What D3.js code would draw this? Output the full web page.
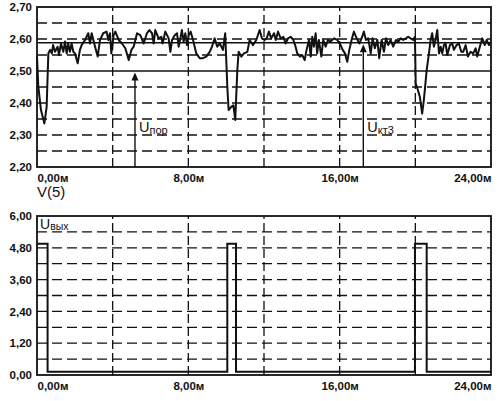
<!DOCTYPE html>
<html><head><meta charset="utf-8">
<script src="https://cdn.jsdelivr.net/npm/d3@7"></script>
<style>
html,body{margin:0;padding:0;background:#fff;}
svg{display:block;font-family:"Liberation Sans",Arial,sans-serif;}
</style></head><body>
<svg id="chart" width="500" height="401"></svg>
<script>
// ---- data ----
const xTicks = [0, 8, 16, 24];                 // ms
const xGrid = [4, 8, 12, 16, 20];
const topYTicks = [2.2, 2.3, 2.4, 2.5, 2.6, 2.7];
const topYGrid = [2.25, 2.30, 2.35, 2.40, 2.45, 2.55, 2.60, 2.65];
const botYTicks = [0, 1.2, 2.4, 3.6, 4.8, 6.0];
const botYGrid = [0.6, 1.2, 1.8, 2.4, 3.0, 3.6, 4.2, 4.8, 5.4];
const uporLevel = 2.50;
const ukt3Level = 2.588;
const uporTime = 5.18;
const ukt3Time = 17.25;

const v5Time = [0,0.07,0.21,0.39,0.51,0.60,0.69,0.78,0.85,0.95,1.09,1.16,1.27,1.39,1.48,1.57,1.65,1.74,1.83,1.92,2.01,2.15,2.27,2.36,2.54,2.71,2.80,2.89,3.07,3.21,3.33,3.50,3.68,3.77,3.86,3.93,4.05,
4.14,4.32,4.49,4.67,4.85,4.99,5.11,5.29,5.46,5.64,5.81,5.94,6.08,6.17,6.25,6.43,6.57,6.64,6.78,6.96,7.05,7.14,7.28,7.40,7.49,7.58,7.66,7.75,7.84,7.93,8.02,
8.12,8.25,8.42,8.60,8.77,8.95,9.13,9.25,9.39,9.53,9.66,9.83,9.95,10.06,10.13,10.27,10.38,10.48,10.59,10.66,10.80,10.94,11.12,11.24,11.42,11.59,11.77,11.89,12.03,
12.14,12.26,12.38,12.53,12.62,12.74,12.88,13.02,13.14,13.27,13.41,13.55,13.67,13.76,13.90,14.02,14.15,14.25,14.38,14.47,14.55,14.64,14.73,14.81,14.90,15.03,15.13,15.26,15.38,15.52,15.70,15.87,16.05,
16.16,16.28,16.40,16.51,16.63,16.75,16.90,17.04,17.16,17.28,17.39,17.51,17.64,17.74,17.86,17.99,18.09,18.22,18.34,18.45,18.57,18.69,18.83,18.98,19.10,19.22,19.36,19.50,19.62,19.75,19.89,19.98,
20.02,20.14,20.24,20.36,20.45,20.60,20.72,20.81,20.89,20.98,21.07,21.16,21.25,21.34,21.42,21.51,21.60,21.69,21.83,21.95,22.04,22.18,22.30,22.43,22.53,22.66,22.78,22.92,23.06,23.19,23.27,23.41,23.54,23.67,23.77,23.89,23.98];

const v5Value = [2.545,2.451,2.378,2.336,2.388,2.555,2.566,2.555,2.581,2.560,2.576,2.550,2.586,2.560,2.592,2.555,2.586,2.560,2.586,2.560,2.555,2.524,2.566,2.581,2.597,2.618,2.586,2.618,2.576,2.545,2.597,2.618,2.623,2.597,2.618,2.555,2.612,
2.623,2.597,2.586,2.571,2.534,2.566,2.576,2.618,2.612,2.586,2.618,2.628,2.618,2.586,2.628,2.602,2.607,2.586,2.623,2.602,2.560,2.597,2.612,2.618,2.576,2.602,2.628,2.592,2.618,2.581,2.612,
2.623,2.597,2.555,2.540,2.540,2.545,2.560,2.576,2.602,2.576,2.586,2.566,2.618,2.451,2.378,2.388,2.393,2.347,2.503,2.560,2.545,2.555,2.560,2.597,2.581,2.597,2.628,2.602,2.597,
2.602,2.623,2.602,2.618,2.597,2.623,2.602,2.607,2.586,2.602,2.607,2.597,2.576,2.555,2.545,2.550,2.534,2.566,2.597,2.545,2.607,2.576,2.618,2.555,2.597,2.545,2.597,2.576,2.597,2.592,2.602,2.597,2.581,
2.566,2.555,2.529,2.566,2.597,2.623,2.602,2.586,2.602,2.623,2.597,2.602,2.555,2.602,2.571,2.597,2.540,2.597,2.560,2.602,2.581,2.597,2.576,2.597,2.592,2.602,2.597,2.602,2.607,2.602,2.597,2.607,
2.461,2.440,2.419,2.367,2.409,2.503,2.555,2.597,2.618,2.576,2.597,2.628,2.555,2.576,2.555,2.581,2.586,2.550,2.581,2.586,2.566,2.581,2.586,2.560,2.560,2.581,2.545,2.560,2.555,2.571,2.545,2.576,2.602,2.581,2.597,2.581,2.586];

const outTime = [0, 0.56, 10.06, 10.52, 19.98, 20.6, 24];
const outValue = [4.95, 0.12, 4.95, 0.12, 4.95, 0.12, 0.12];

// ---- layout ----
const svg = d3.select("#chart");
const x = d3.scaleLinear().domain([0, 24]).range([37, 491]);
const yTop = d3.scaleLinear().domain([2.2, 2.7]).range([167, 7]);
const yBot = d3.scaleLinear().domain([0, 6]).range([375, 216]);
const ink = "#111";
const fmt2 = d => d.toFixed(2).replace(".", ",");

function panel(y, yTicks, yGrid, yDomain) {
  const g = svg.append("g");
  g.selectAll("line.hg").data(yGrid).enter().append("line")
    .attr("x1", x(0)).attr("x2", x(24))
    .attr("y1", d => y(d)).attr("y2", d => y(d))
    .attr("stroke", ink).attr("stroke-width", 1.3).attr("stroke-dasharray", "10,5");
  g.selectAll("line.vg").data(xGrid).enter().append("line")
    .attr("x1", d => x(d)).attr("x2", d => x(d))
    .attr("y1", y(yDomain[0])).attr("y2", y(yDomain[1]))
    .attr("stroke", ink).attr("stroke-width", 1.3).attr("stroke-dasharray", "9,4");
  g.append("rect").attr("x", x(0)).attr("y", y(yDomain[1]))
    .attr("width", x(24) - x(0)).attr("height", y(yDomain[0]) - y(yDomain[1]))
    .attr("fill", "none").attr("stroke", ink).attr("stroke-width", 1.8);
  const ay = g.append("g").attr("transform", `translate(${x(0)},0)`)
    .call(d3.axisLeft(y).tickValues(yTicks).tickFormat(fmt2).tickSize(0).tickPadding(5));
  ay.select(".domain").remove();
  ay.selectAll("text").attr("font-size", 11.5).attr("font-weight", "bold").attr("fill", ink)
    .attr("font-family", "Liberation Sans, Arial, sans-serif");
  const ax = g.append("g").attr("transform", `translate(0,${y(yDomain[0])})`)
    .call(d3.axisBottom(x).tickValues(xTicks).tickFormat(d => fmt2(d) + "м").tickSize(0).tickPadding(7));
  ax.select(".domain").remove();
  ax.selectAll("text").attr("font-size", 11.5).attr("font-weight", "bold").attr("fill", ink)
    .attr("font-family", "Liberation Sans, Arial, sans-serif")
    .attr("text-anchor", (d, i) => i === 0 ? "start" : (i === xTicks.length - 1 ? "end" : "middle"));
  return g;
}

// ---- top panel ----
const gTop = panel(yTop, topYTicks, topYGrid, [2.2, 2.7]);
[uporLevel, ukt3Level].forEach(l => {
  gTop.append("line").attr("x1", x(0)).attr("x2", x(24))
    .attr("y1", yTop(l)).attr("y2", yTop(l)).attr("stroke", ink).attr("stroke-width", 1.5);
});
const v5 = v5Time.map((t, i) => [t, v5Value[i]]);
gTop.append("path").datum(v5)
  .attr("d", d3.line().x(d => x(d[0])).y(d => yTop(d[1])))
  .attr("fill", "none").attr("stroke", ink).attr("stroke-width", 2).attr("stroke-linejoin", "round");

function arrow(g, t, level, main, sub) {
  const ax = x(t), tip = yTop(level) + 1.5;
  g.append("line").attr("x1", ax).attr("x2", ax).attr("y1", yTop(2.2)).attr("y2", tip + 7)
    .attr("stroke", ink).attr("stroke-width", 1.4);
  g.append("path").attr("d", `M${ax},${tip} L${ax - 3.5},${tip + 8} L${ax + 3.5},${tip + 8} Z`).attr("fill", ink);
  const tx = g.append("text").attr("x", ax + 4).attr("y", 132).attr("fill", ink)
    .attr("font-size", 14.5);
  tx.append("tspan").text(main);
  tx.append("tspan").attr("font-size", 11).attr("dy", 2).text(sub);
}
arrow(gTop, uporTime, uporLevel, "U", "пор");
arrow(gTop, ukt3Time, ukt3Level, "U", "кт3");

svg.append("text").attr("x", 37).attr("y", 197).attr("font-size", 15).attr("fill", ink).text("V(5)");

// ---- bottom panel ----
const gBot = panel(yBot, botYTicks, botYGrid, [0, 6]);
const outPts = outTime.map((t, i) => [t, outValue[i]]);
gBot.append("path").datum(outPts)
  .attr("d", d3.line().curve(d3.curveStepAfter).x(d => x(d[0])).y(d => yBot(d[1])))
  .attr("fill", "none").attr("stroke", ink).attr("stroke-width", 2);
const ul = gBot.append("text").attr("x", 40).attr("y", 229).attr("fill", ink).attr("font-size", 14);
ul.append("tspan").text("U");
ul.append("tspan").attr("font-size", 10.5).attr("dy", 1).text("вых");
</script>
</body></html>
